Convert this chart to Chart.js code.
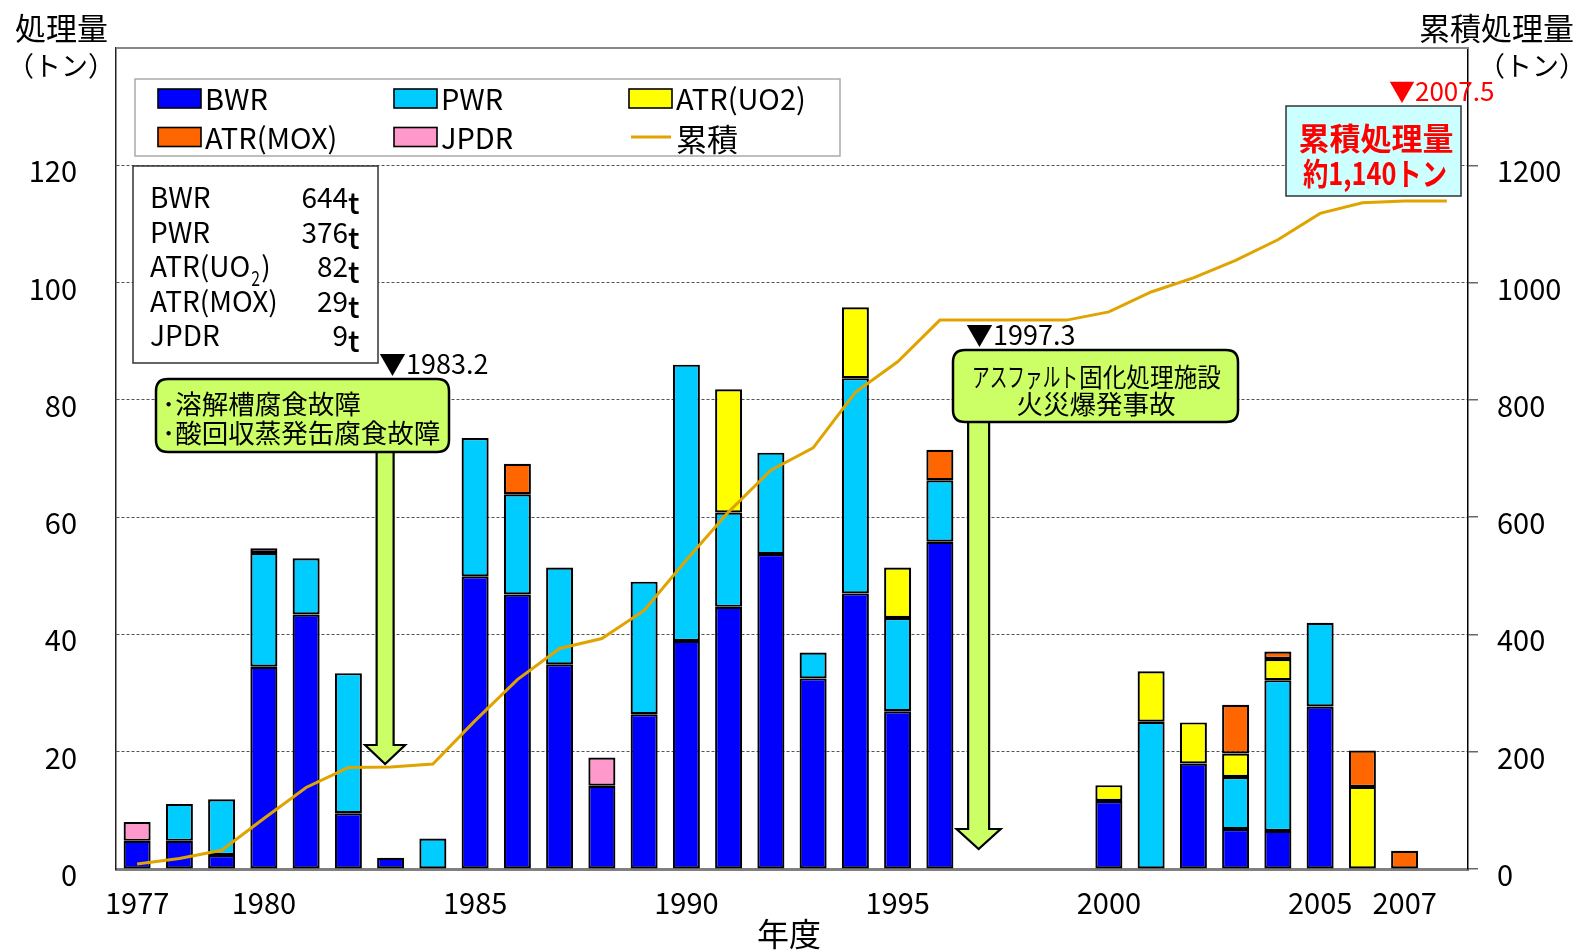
<!DOCTYPE html>
<html><head><meta charset="utf-8">
<script src="https://cdn.jsdelivr.net/npm/chart.js@4.4.0/dist/chart.umd.min.js"></script>
<style>html,body{margin:0;padding:0;background:#fff;overflow:hidden}canvas{display:block}</style>
</head><body>
<canvas id="c" width="1576" height="951"></canvas>
<script>
// ---- data (tonnes per fiscal year) ----
const years = ['1977','1978','1979','1980','1981','1982','1983','1984','1985','1986','1987','1988','1989','1990','1991','1992','1993','1994','1995','1996','1997','1998','1999','2000','2001','2002','2003','2004','2005','2006','2007','2008'];
const shownYears = ['1977','1980','1985','1990','1995','2000','2005','2007'];
const bwr  = [4.8,4.8,2.4,34.5,43.4,9.5,1.9,null,49.9,46.8,34.9,14.2,26.4,38.9,44.7,53.7,32.5,47.0,26.9,55.8,null,null,null,11.6,null,18.0,6.8,6.5,27.7,null,null,null];
const pwr  = [null,6.3,9.5,19.4,9.6,23.9,null,5.2,23.6,17.1,16.5,null,22.6,47.1,16.1,17.3,4.4,36.7,15.9,10.5,null,null,null,null,25.1,null,8.9,25.7,14.3,null,null,null];
const atrUO2 = [null,null,null,null,null,null,null,null,null,null,null,null,null,null,21.0,null,null,12.1,8.6,null,null,null,null,2.7,8.6,7.0,4.0,3.6,null,14.0,null,null];
const atrMOX = [null,null,null,null,null,null,null,null,null,5.2,null,null,null,null,null,null,null,null,null,5.2,null,null,null,null,null,null,8.3,1.3,null,6.2,3.1,null];
const jpdr = [3.2,null,null,0.8,null,null,null,null,null,null,null,4.8,null,null,null,null,null,null,null,null,null,null,null,null,null,null,null,null,null,null,null,null];
const cumulative = [8.5,18,32,86,139,173,174,179,253,323,376,393,441,527,609,680,718,813,865,936,936,936,936,950,984,1008,1038,1073,1118,1136,1139,1139];
const leftTicks = [0,20,40,60,80,100,120];
const rightTicks = [0,200,400,600,800,1000,1200];
const summaryNames = ['BWR','PWR','ATR(UO2)','ATR(MOX)','JPDR'];
const summaryTotals = ['644','376','82','29','9'];

const FONT = "'Noto Sans CJK JP','Noto Sans',sans-serif";
const C_BWR='#0000FF', C_PWR='#00CCFF', C_UO2='#FFFF00', C_MOX='#FF6600', C_JPDR='#FF99CC', C_LINE='#E0A400', C_GREEN='#CCFF66';

function roundRect(ctx,x,y,w,h,r){ctx.beginPath();ctx.moveTo(x+r,y);ctx.lineTo(x+w-r,y);ctx.quadraticCurveTo(x+w,y,x+w,y+r);ctx.lineTo(x+w,y+h-r);ctx.quadraticCurveTo(x+w,y+h,x+w-r,y+h);ctx.lineTo(x+r,y+h);ctx.quadraticCurveTo(x,y+h,x,y+h-r);ctx.lineTo(x,y+r);ctx.quadraticCurveTo(x,y,x+r,y);ctx.closePath();}
function downArrow(ctx,cx,y0,headTop,tip,shaftHalf,headHalf){
  ctx.beginPath();
  ctx.moveTo(cx-shaftHalf,y0);ctx.lineTo(cx+shaftHalf,y0);ctx.lineTo(cx+shaftHalf,headTop);ctx.lineTo(cx+headHalf,headTop);
  ctx.lineTo(cx,tip);ctx.lineTo(cx-headHalf,headTop);ctx.lineTo(cx-shaftHalf,headTop);ctx.closePath();
  ctx.fillStyle=C_GREEN;ctx.fill();ctx.lineWidth=2.2;ctx.strokeStyle='#000';ctx.stroke();
}
function scaledText(ctx,text,x,y,sx){ctx.save();ctx.translate(x,y);ctx.scale(sx,1);ctx.fillText(text,0,0);ctx.restore();}

const annot = {
  id:'annot',
  afterDraw(chart){
    const ctx=chart.ctx, ca=chart.chartArea, xs=chart.scales.x;
    ctx.save();
    // top border of plot
    ctx.strokeStyle='#888';ctx.lineWidth=2;ctx.beginPath();ctx.moveTo(ca.left,ca.top);ctx.lineTo(ca.right,ca.top);ctx.stroke();

    // axis titles
    ctx.fillStyle='#000';ctx.textBaseline='middle';
    ctx.font='31px '+FONT;ctx.textAlign='left';ctx.fillText('処理量',15,28);
    ctx.textAlign='right';ctx.fillText('累積処理量',1574,28);
    ctx.font='27px '+FONT;ctx.textAlign='center';ctx.fillText('（トン）',61,66);ctx.fillText('（トン）',1532,66);
    ctx.font='32px '+FONT;ctx.fillText('年度',789,934);

    // legend box
    ctx.fillStyle='#fff';ctx.fillRect(135,79,705,77);
    ctx.strokeStyle='#aaa';ctx.lineWidth=1.5;ctx.strokeRect(135,79,705,77);
    const leg=[['BWR',C_BWR,158,89],['PWR',C_PWR,394,89],['ATR(UO2)',C_UO2,629,89],['ATR(MOX)',C_MOX,158,127.5],['JPDR',C_JPDR,394,127.5]];
    ctx.font='29px '+FONT;ctx.textAlign='left';ctx.textBaseline='middle';
    for(const [t,c,x,y] of leg){
      ctx.fillStyle=c;ctx.fillRect(x,y,43,19);ctx.strokeStyle='#000';ctx.lineWidth=1.6;ctx.strokeRect(x,y,43,19);
      ctx.fillStyle='#000';ctx.fillText(t,x+47,y+10);
    }
    ctx.strokeStyle=C_LINE;ctx.lineWidth=3;ctx.beginPath();ctx.moveTo(631,137);ctx.lineTo(671,137);ctx.stroke();
    ctx.fillStyle='#000';ctx.font='31px '+FONT;ctx.fillText('累積',676,139);

    // summary box
    ctx.fillStyle='#fff';ctx.fillRect(133,166,245,197);
    ctx.strokeStyle='#333';ctx.lineWidth=1.5;ctx.strokeRect(133,166,245,197);
    ctx.fillStyle='#000';ctx.textBaseline='alphabetic';
    const base=[208,242.5,277,311.5,346];
    summaryNames.forEach((n,i)=>{
      ctx.font='28px '+FONT;ctx.textAlign='left';
      if(n==='ATR(UO2)'){
        ctx.fillText('ATR(UO',150,base[i]);
        let w=ctx.measureText('ATR(UO').width;
        ctx.font='21px '+FONT;scaledText(ctx,'2',150+w+1,base[i]+9,0.75);
        ctx.font='28px '+FONT;ctx.fillText(')',150+w+11,base[i]);
      } else ctx.fillText(n,150,base[i]);
      ctx.font='28px '+FONT;ctx.textAlign='right';ctx.fillText(summaryTotals[i],348,base[i]);
      ctx.font='500 29px '+FONT;ctx.textAlign='left';ctx.fillText('t',348,base[i]+6);
    });

    // 1983.2 event
    const ax1 = xs.getPixelForValue(years.indexOf('1983')) - 5.5;
    downArrow(ctx,ax1,451,745,764,8.5,20);
    ctx.fillStyle=C_GREEN;roundRect(ctx,156,379,293,73,12);ctx.fill();ctx.strokeStyle='#000';ctx.lineWidth=2.5;ctx.stroke();
    ctx.fillStyle='#000';ctx.textAlign='left';ctx.textBaseline='middle';ctx.font='26.5px '+FONT;
    ctx.fillText('･溶解槽腐食故障',162,404);ctx.fillText('･酸回収蒸発缶腐食故障',162,433);
    ctx.font='27px '+FONT;ctx.fillText('▼1983.2',379,364);

    // 1997.3 event
    const ax2 = xs.getPixelForValue(years.indexOf('1997')) - 3.5;
    downArrow(ctx,ax2,421,829,849,10.5,22);
    ctx.fillStyle=C_GREEN;roundRect(ctx,953,350,285,72,12);ctx.fill();ctx.strokeStyle='#000';ctx.lineWidth=2.5;ctx.stroke();
    ctx.fillStyle='#000';ctx.font='26px '+FONT;ctx.textAlign='left';
    const kana='アスファルト', kanji='固化処理施設';
    const kw=ctx.measureText(kana).width;
    scaledText(ctx,kana,972,377,106/kw);
    const jw=ctx.measureText(kanji).width;
    scaledText(ctx,kanji,1079,377,142/jw);
    ctx.textAlign='center';ctx.font='26.5px '+FONT;ctx.fillText('火災爆発事故',1096,404);
    ctx.textAlign='left';ctx.font='27px '+FONT;ctx.fillText('▼1997.3',966,335);

    // 2007.5 total box
    ctx.fillStyle='#FF0000';ctx.font='26px '+FONT;ctx.textAlign='left';ctx.fillText('▼2007.5',1389,91);
    ctx.fillStyle='#CCFFFF';ctx.fillRect(1286,106,175,90);ctx.strokeStyle='#333';ctx.lineWidth=1.5;ctx.strokeRect(1286,106,175,90);
    ctx.fillStyle='#FF0000';ctx.font='bold 31px '+FONT;ctx.textAlign='center';
    ctx.fillText('累積処理量',1376,138);
    const l2='約1,140トン';const w2=ctx.measureText(l2).width;
    ctx.textAlign='left';scaledText(ctx,l2,1303,173,Math.min(1,144/w2));
    ctx.restore();
  }
};

const barDs = (label,data,color)=>({label,data,backgroundColor:color,borderColor:'#000',borderWidth:2.2,borderSkipped:false,yAxisID:'y',order:1,barPercentage:0.64,categoryPercentage:1.0});
const fitV = w => s => { s.width = w; s.paddingTop = 0; s.paddingBottom = 0; };

new Chart(document.getElementById('c'),{
  type:'bar',
  data:{
    labels:years,
    datasets:[
      {type:'line',label:'累積',data:cumulative,yAxisID:'y2',borderColor:C_LINE,borderWidth:3,pointRadius:0,tension:0,fill:false,order:0},
      barDs('BWR',bwr,C_BWR),
      barDs('PWR',pwr,C_PWR),
      barDs('ATR(UO2)',atrUO2,C_UO2),
      barDs('ATR(MOX)',atrMOX,C_MOX),
      barDs('JPDR',jpdr,C_JPDR)
    ]
  },
  options:{
    responsive:false,animation:false,devicePixelRatio:1,
    layout:{padding:{top:48,left:0,right:0,bottom:0}},
    plugins:{legend:{display:false},tooltip:{enabled:false}},
    scales:{
      x:{stacked:true,grid:{display:false,drawTicks:false},border:{display:true,color:'#808080',width:3},
         ticks:{autoSkip:false,maxRotation:0,minRotation:0,padding:17,color:'#000',font:{family:FONT,size:29},
           callback:(v,i)=>shownYears.includes(years[i])?years[i]:''},
         afterFit:s=>{s.height=82;s.paddingLeft=0;s.paddingRight=0;}},
      y:{stacked:true,position:'left',min:0,max:140,
         afterBuildTicks:s=>{s.ticks=leftTicks.concat([140]).map(v=>({value:v}));},
         ticks:{padding:39,labelOffset:6,color:'#000',font:{family:FONT,size:29},callback:v=>leftTicks.includes(v)?String(v):''},
         grid:{drawTicks:false,lineWidth:1,color:c=>(c.tick&&(c.tick.value===0||c.tick.value===140))?'rgba(0,0,0,0)':'#555'},
         border:{display:true,color:'#222',width:1.5,dash:[3,2]},
         afterFit:fitV(116)},
      y2:{position:'right',min:0,max:1400,
         afterBuildTicks:s=>{s.ticks=rightTicks.concat([1400]).map(v=>({value:v}));},
         ticks:{padding:19,labelOffset:6,color:'#000',font:{family:FONT,size:29},callback:v=>rightTicks.includes(v)?String(v):''},
         grid:{drawOnChartArea:false,drawTicks:true,tickLength:10,lineWidth:1.5,tickColor:c=>(c.tick&&c.tick.value===1400)?'rgba(0,0,0,0)':'#666'},
         border:{display:true,color:'#000',width:1.5},
         afterFit:fitV(108)}
    }
  },
  plugins:[annot]
});
</script>
</body></html>
